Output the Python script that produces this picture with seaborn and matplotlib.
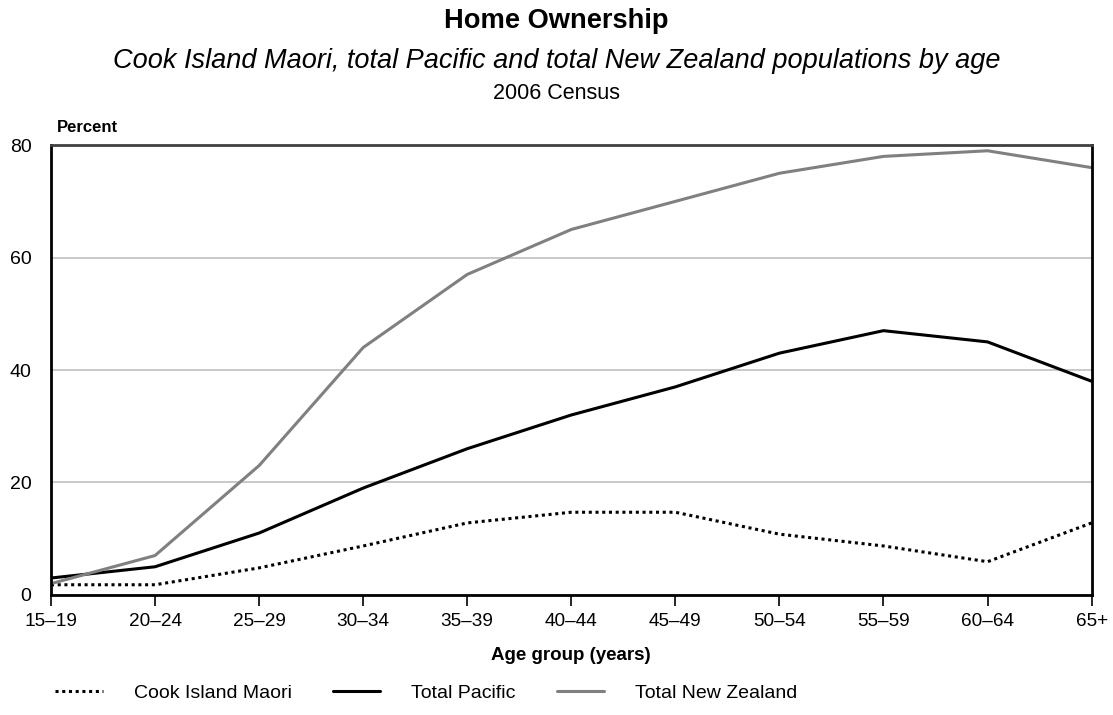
import matplotlib
matplotlib.use("Agg")
import matplotlib.pyplot as plt
import seaborn as sns
import pandas as pd

sns.set_theme(style="white")
plt.rcParams['font.family'] = ['Liberation Sans', 'DejaVu Sans']
plt.rcParams.update({"text.color": "black", "axes.labelcolor": "black",
                     "xtick.color": "black", "ytick.color": "black"})

ages = ["15–19", "20–24", "25–29", "30–34", "35–39", "40–44", "45–49", "50–54", "55–59", "60–64", "65+"]
cook = [1.8, 1.8, 4.8, 8.7, 12.8, 14.7, 14.7, 10.8, 8.7, 5.9, 12.8]
pacific = [3, 5, 11, 19, 26, 32, 37, 43, 47, 45, 38]
nz = [2, 7, 23, 44, 57, 65, 70, 75, 78, 79, 76]
series_names = ["Cook Island Maori", "Total Pacific", "Total New Zealand"]

df = pd.DataFrame({
    "age": ages * 3,
    "pct": cook + pacific + nz,
    "series": [series_names[0]] * len(ages) + [series_names[1]] * len(ages) + [series_names[2]] * len(ages),
})

fig = plt.figure(figsize=(11.13, 7.15), dpi=100)
ax = fig.add_axes([0.0458, 0.168, 0.935, 0.629])

styles = {
    "Cook Island Maori": dict(color="black", lw=2.2, ls=(0, (1, 1.2))),
    "Total Pacific": dict(color="black", lw=2.2, ls="-"),
    "Total New Zealand": dict(color="#808080", lw=2.2, ls="-"),
}
for name in series_names:
    sub = df[df["series"] == name]
    st = styles[name]
    sns.lineplot(data=sub, x="age", y="pct", ax=ax, color=st["color"], linewidth=st["lw"],
                 linestyle=st["ls"], label=name, sort=False)

ax.set_xlim(0, len(ages) - 1)
ax.set_ylim(0, 80)
ax.set_yticks([0, 20, 40, 60, 80])
ax.yaxis.grid(True, color="#c0c0c0", lw=1.2)
ax.xaxis.grid(False)
ax.set_axisbelow(True)
for s in ["left", "bottom", "right"]:
    ax.spines[s].set_color("black")
    ax.spines[s].set_linewidth(2)
ax.spines["top"].set_color("#404040")
ax.spines["top"].set_linewidth(2)
ax.tick_params(axis="x", which="major", bottom=True, length=8, width=1.2, color="black",
               labelsize=13.7, pad=5)
ax.tick_params(axis="y", left=False, length=0, labelsize=14, pad=14)
ax.set_xlabel("Age group (years)", fontsize=13.5, fontweight="bold")
ax.xaxis.label.set_va("baseline")
ax.xaxis.set_label_coords(0.5, -0.145)
ax.set_ylabel("")
ax.get_legend().remove()

fig.text(0.5, 0.961, "Home Ownership", ha="center", va="baseline", fontsize=19.6, fontweight="bold")
fig.text(0.5, 0.905, "Cook Island Maori, total Pacific and total New Zealand populations by age",
         ha="center", va="baseline", fontsize=19.5, style="italic")
fig.text(0.5, 0.862, "2006 Census", ha="center", va="baseline", fontsize=15.5)
fig.text(0.051, 0.815, "Percent", ha="left", va="baseline", fontsize=12, fontweight="bold")

handles, labels = ax.get_legend_handles_labels()
fig.legend(handles, labels, loc="center left", bbox_to_anchor=(0.0494, 0.031), ncol=3, frameon=False,
           fontsize=14, handlelength=2.45, handletextpad=1.6, columnspacing=2.1,
           borderpad=0, borderaxespad=0)

fig.savefig("out.png", dpi=100)
